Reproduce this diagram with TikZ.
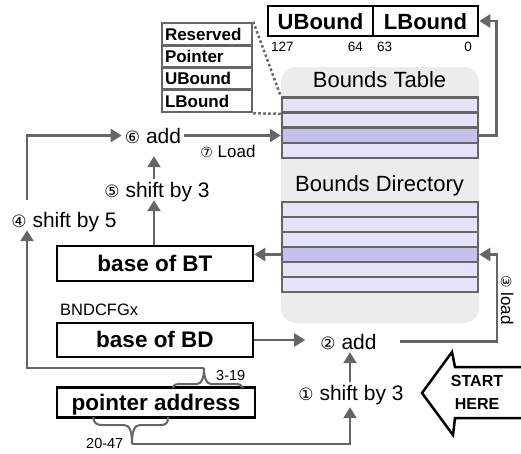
\documentclass[tikz,border=0pt]{standalone}
\usepackage{fontspec}
\setmainfont{Liberation Sans}
\newfontfamily\dvfont{DejaVu Sans}
\usetikzlibrary{arrows.meta,calc}
\definecolor{lg}{HTML}{666666}
\definecolor{rowl}{HTML}{E4E4F8}
\definecolor{rowd}{HTML}{C2C2EC}
\definecolor{bgg}{HTML}{ECECEC}
\newcommand{\cnb}[1]{{\dvfont\fontsize{17}{20}\selectfont #1}}
\newcommand{\cns}[1]{{\dvfont\fontsize{14}{16}\selectfont #1}}
\begin{document}
\begin{tikzpicture}[x=1pt,y=-1pt,
  lbl/.style={inner sep=3pt,text height=15pt,text depth=0pt,font=\fontsize{21}{25}\selectfont},
  hdr/.style={inner sep=3pt,text height=15.5pt,text depth=0pt,font=\fontsize{22}{26}\selectfont},
  small/.style={inner sep=2pt,text height=12pt,text depth=0pt,font=\fontsize{17}{20}\selectfont},
  tiny/.style={inner sep=0pt,font=\fontsize{13.5}{16}\selectfont},
  arr/.style={draw=lg,line width=2.5pt,-{Triangle[length=11pt,width=13pt]}},
  bbox/.style={draw=black,line width=2.5pt,minimum width=196pt,inner sep=0pt,text height=15.5pt,text depth=0pt,font=\fontsize{22.5}{26}\selectfont\bfseries},
  ubox/.style={draw=black,line width=2.5pt,minimum width=105pt,minimum height=30pt,inner sep=0pt,text height=16pt,text depth=0pt,font=\fontsize{22}{26}\selectfont\bfseries},
  stk/.style={draw=lg,line width=2.5pt,minimum height=22.25pt,text width=84pt,align=left,inner sep=3pt,text height=12.5pt,text depth=0pt,font=\fontsize{17}{20}\selectfont\bfseries},
  trow/.style={draw=lg,line width=2.5pt,minimum width=196pt,minimum height=15.1pt,inner sep=0pt},
  dots/.style={draw=lg,line width=2.5pt,dash pattern=on 2.5pt off 2.5pt},
  brc/.style={draw=lg,line width=2pt},
]
\useasboundingbox (0,0) rectangle (521,453);
% column helpers
\coordinate (j4) at (27,0);
\coordinate (c154) at (154,0);
\coordinate (c350) at (350,0);
\coordinate (j3) at (497,0);
% gray background
\fill[bgg,rounded corners=15pt] (281,67) rectangle (479,323);
\node[hdr] (tbt) at (379.5,79.5) {Bounds Table};
\node[hdr] (tbd) at (379.5,183.5) {Bounds Directory};
% bounds table rows
\foreach \i/\c in {1/rowl,2/rowl,3/rowd,4/rowl}
  \node[trow,fill=\c] (bt\i) at (380,{97.5+15.1*(\i-0.5)}) {};
% bounds directory rows
\foreach \i/\c in {1/rowl,2/rowl,3/rowl,4/rowd,5/rowl,6/rowl}
  \node[trow,fill=\c] (bd\i) at (380,{202+15*(\i-0.5)}) {};
% top entry box
\node[ubox] (ub) at (320.5,21) {UBound};
\node[ubox] (lb) at (425.5,21) {LBound};
\node[tiny,anchor=base west] (n127) at (271,51) {127};
\node[tiny,anchor=base east] (n64) at (363,51) {64};
\node[tiny,anchor=base west] (n63) at (377,51) {63};
\node[tiny,anchor=base east] (n0) at (472,51) {0};
% stacked entry
\node[stk] (res) at (207,34.1) {Reserved};
\node[stk] (ptr) at (207,56.4) {Pointer};
\node[stk] (ubd) at (207,78.6) {UBound};
\node[stk] (lbd) at (207,100.9) {LBound};
\draw[dots] (res.north east) -- (bt1.north west);
\draw[dots] (lbd.south east) -- (bt1.south west);
% boxes
\node[bbox,minimum height=35pt] (bBT) at (155,263.5) {base of BT};
\node[bbox,minimum height=34pt] (bBD) at (155,340) {base of BD};
\node[bbox,minimum width=198pt,minimum height=30pt] (pa) at (156,402.5) {pointer address};
\node[anchor=base west,inner sep=0pt,font=\fontsize{16.5}{20}\selectfont] (cfg) at (60,315) {BNDCFGx};
% labels
\node[lbl] (add6) at (153,135.5) {\cnb{⑥} add};
\node[small] (ld7) at (228,151) {\cns{⑦} Load};
\node[lbl] (sh5) at (157,189.5) {\cnb{⑤} shift by 3};
\node[lbl] (sh4) at (64,219.5) {\cnb{④} shift by 5};
\node[lbl] (add2) at (348.5,341.5) {\cnb{②} add};
\node[lbl] (sh1) at (351,392.5) {\cnb{①} shift by 3};
\node[small,rotate=-90] (ld3) at (507,300) {\cns{③} load};
% braces
\draw[brc] (173,388) .. controls (174,384) and (176,384) .. (182,384) -- (197,384)
  .. controls (202,384) and (204,377) .. (204,368)
  .. controls (204,377) and (206,384) .. (211,384) -- (235,384)
  .. controls (240,384) and (242,385) .. (243,388);
\coordinate (t319) at (204,368);
\node[inner sep=0pt,anchor=base west,font=\fontsize{14.5}{17}\selectfont] (l319) at (216,380) {3-19};
\draw[brc] (93,417) .. controls (94,423) and (96,425) .. (102,425) -- (124,425)
  .. controls (130,425) and (132,432) .. (132,444)
  .. controls (132,432) and (134,425) .. (140,425) -- (161,425)
  .. controls (166,425) and (168,423) .. (168,417);
\coordinate (t2047) at (132,444);
\node[inner sep=0pt,anchor=base west,font=\fontsize{14.5}{17}\selectfont] (l2047) at (86,448) {20-47};
% connectors
\draw[arr] (bt3.east) -- ++(17,0) |- (lb.east);
\draw[arr] ($(j4 |- sh4.north)+(0,-9)$) |- (add6.west);
\draw[arr] (add6.east) -- (add6.east -| bt3.west);
\draw[arr] (c154 |- sh5.north) -- ($(c154 |- add6.south)+(0,10)$);
\draw[arr] (c154 |- bBT.north) -- (c154 |- sh5.south);
\draw[arr] (bd4.west) -- (bd4.west -| bBT.east);
\draw[arr] (bBD.east) -- ($(add2.west |- bBD.east)+(-12,0)$);
\draw[arr] ($(add2.east)+(20,0)$) -| (j3 |- bd4.east) -- (bd4.east);
\draw[arr] (c350 |- sh1.north) -- (c350 |- add2.south);
\draw[arr] (t2047) -| ($(c350 |- sh1.south)+(0,4)$);
\draw[arr] (t319) -| (j4 |- sh4.south);
% start here arrow
\draw[black,line width=2.5pt,line join=miter] (535,367) -- (455,367) -- (452,352) -- (422,393) -- (453,435) -- (455,418) -- (535,418);
\node[align=center,inner sep=0pt,font=\fontsize{16}{23}\selectfont\bfseries] (start) at (477,392) {START\\HERE};
\end{tikzpicture}
\end{document}
